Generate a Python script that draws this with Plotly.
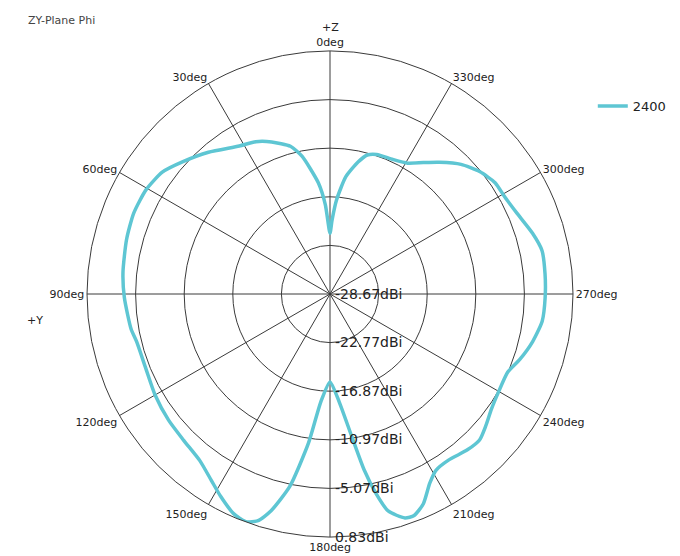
import plotly.graph_objects as go

# Gain pattern (dBi) vs angle (deg), ZY-plane Phi, 2400 MHz
theta_deg = [0, 3, 6, 11.5, 15, 21, 26, 31.5, 40.6, 48, 54, 60.5, 67.6, 75, 84, 91, 100, 104,
             112, 120, 128, 135, 142, 147.5, 151.6, 156.3, 159.7, 162.4, 164.8, 168.2, 171.8,
             175.1, 180, 184.9, 188.6, 191, 193, 195, 198.5, 200.8, 204, 207.8, 211, 215.5,
             221.4, 225.7, 229.8, 234.5, 239.7, 246.3, 251, 256.8, 262.7, 269, 275.4, 281.6,
             286.7, 293.4, 299, 304, 309.3, 314.7, 320.3, 324.6, 329.3, 335, 341.5, 345, 348,
             352.3, 356, 358.4, 360]
gain_dbi = [-21.3, -17.8, -15.1, -11.6, -10.1, -8.9, -8.1, -7.6, -6.0, -4.65, -3.5, -3.0, -2.9,
            -3.1, -3.4, -3.7, -4.15, -4.5, -4.55, -4.15, -3.8, -3.55, -3.0, -1.85, -0.75, 0.45,
            0.8, 0.2, -1.4, -4.8, -10.4, -15.5, -18.0, -15.5, -11.3, -6.9, -3.8, -1.4, 0.0, 0.1,
            -0.8, -2.7, -3.7, -3.9, -3.45, -3.3, -3.9, -4.6, -5.0, -5.1, -4.3, -3.4, -2.7, -2.55,
            -2.45, -2.4, -3.0, -3.95, -4.4, -4.5, -5.2, -6.3, -7.9, -9.1, -10.2, -10.65, -10.8,
            -11.2, -12.3, -14.3, -17.2, -19.7, -21.3]

radial_ticks = [-28.67, -22.77, -16.87, -10.97, -5.07, 0.83]
radial_ticktext = ["-28.67dBi", "-22.77dBi", "-16.87dBi", "-10.97dBi", "-5.07dBi", "0.83dBi"]
angle_ticks = [0, 30, 60, 90, 120, 150, 180, 210, 240, 270, 300, 330]
angle_ticktext = ["0deg", "30deg", "60deg", "90deg", "120deg", "150deg", "180deg",
                  "210deg", "240deg", "270deg", "300deg", "330deg"]
series_name = "2400"

W, H = 680, 556
# domain box (plotly renders the circle offset by a few px, compensated here)
cx, cy, R = 322, 286, 243

fig = go.Figure()
fig.add_trace(go.Scatterpolar(
    r=gain_dbi, theta=theta_deg, mode="lines", name=series_name,
    line=dict(color="#5ec6d3", width=3.5, shape="spline", smoothing=0.6),
))

grid = "#3a3a3a"
fig.update_layout(
    width=W, height=H,
    margin=dict(l=0, r=0, t=0, b=0, autoexpand=False),
    paper_bgcolor="white",
    font=dict(family="DejaVu Sans", size=11, color="#222"),
    polar=dict(
        domain=dict(x=[(cx - R) / W, (cx + R) / W],
                    y=[(H - cy - R) / H, (H - cy + R) / H]),
        bgcolor="white",
        radialaxis=dict(
            range=[radial_ticks[0], radial_ticks[-1]],
            tickvals=radial_ticks, ticktext=["\u00a0" + t for t in radial_ticktext],
            angle=-90, tickangle=-90, side="counterclockwise",
            showline=False, ticks="",
            gridcolor=grid, gridwidth=1,
            tickfont=dict(size=14, color="#222", family="DejaVu Sans"),
        ),
        angularaxis=dict(
            rotation=90, direction="counterclockwise",
            tickvals=angle_ticks, ticktext=angle_ticktext,
            showline=True, linecolor=grid, linewidth=1,
            gridcolor=grid, gridwidth=1, ticks="",
            tickfont=dict(size=11, color="#222"),
        ),
    ),
    showlegend=True,
    legend=dict(x=0.86, y=1 - 98 / H, xanchor="left", yanchor="middle",
                font=dict(size=13, color="#222"), bgcolor="rgba(0,0,0,0)"),
    annotations=[
        dict(text="ZY-Plane Phi", x=18 / W, y=1 - 13 / H, xref="paper", yref="paper",
             xanchor="left", yanchor="middle", showarrow=False,
             font=dict(size=11, color="#444")),
        dict(text="+Z", x=322 / W, y=1 - 19 / H, xref="paper", yref="paper",
             xanchor="center", yanchor="middle", showarrow=False, font=dict(size=11)),
        dict(text="+Y", x=27 / W, y=1 - 312 / H, xref="paper", yref="paper",
             xanchor="center", yanchor="middle", showarrow=False, font=dict(size=11)),
    ],
)

fig.write_html("out.html")
